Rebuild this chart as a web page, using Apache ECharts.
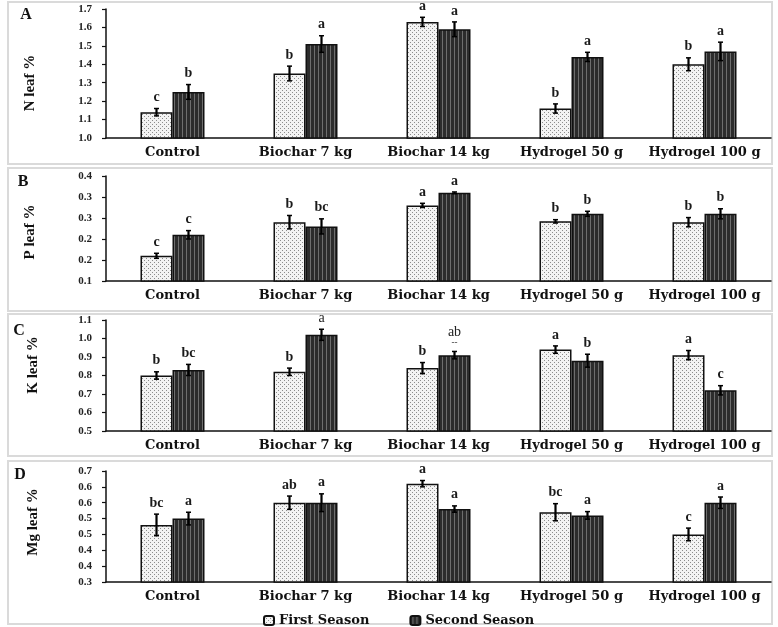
<!DOCTYPE html>
<html>
<head>
<meta charset="utf-8">
<script src="https://cdn.jsdelivr.net/npm/echarts@6/dist/echarts.min.js"></script>
<style>html,body{margin:0;padding:0;background:#fff}#c{width:778px;height:627px}</style>
</head>
<body>
<div id="c"></div>
<script>
// ---------------- data ----------------
const categories = ['Control', 'Biochar 7 kg', 'Biochar 14 kg', 'Hydrogel 50 g', 'Hydrogel 100 g'];
const seasonNames = ['First Season', 'Second Season'];

const nFirst = [1.14, 1.35, 1.63, 1.16, 1.40];
const nSecond = [1.25, 1.51, 1.59, 1.44, 1.47];
const nErrFirst = [0.02, 0.04, 0.025, 0.025, 0.035];
const nErrSecond = [0.04, 0.045, 0.04, 0.025, 0.05];
const nLetFirst = ['c', 'b', 'a', 'b', 'b'];
const nLetSecond = ['b', 'a', 'a', 'a', 'a'];
const nTicks = ['1.0', '1.1', '1.2', '1.3', '1.4', '1.5', '1.6', '1.7'];

const pFirst = [0.16, 0.24, 0.28, 0.242, 0.24];
const pSecond = [0.21, 0.23, 0.31, 0.26, 0.26];
const pErrFirst = [0.006, 0.016, 0.005, 0.004, 0.011];
const pErrSecond = [0.01, 0.018, 0.002, 0.006, 0.012];
const pLetFirst = ['c', 'b', 'a', 'b', 'b'];
const pLetSecond = ['c', 'bc', 'a', 'b', 'b'];
const pTicks = ['0.1', '0.2', '0.2', '0.3', '0.3', '0.4'];

const kFirst = [0.80, 0.82, 0.84, 0.94, 0.91];
const kSecond = [0.83, 1.02, 0.91, 0.88, 0.72];
const kErrFirst = [0.02, 0.02, 0.03, 0.02, 0.025];
const kErrSecond = [0.03, 0.03, 0.02, 0.035, 0.025];
const kLetFirst = ['b', 'b', 'b', 'a', 'a'];
const kLetSecond = ['bc', 'a', 'ab', 'b', 'c'];
const kTicks = ['0.5', '0.6', '0.7', '0.8', '0.9', '1.0', '1.1'];

const mgFirst = [0.48, 0.55, 0.61, 0.52, 0.45];
const mgSecond = [0.50, 0.55, 0.53, 0.51, 0.55];
const mgErrFirst = [0.034, 0.021, 0.01, 0.027, 0.02];
const mgErrSecond = [0.02, 0.028, 0.01, 0.012, 0.018];
const mgLetFirst = ['bc', 'ab', 'a', 'bc', 'c'];
const mgLetSecond = ['a', 'a', 'a', 'a', 'a'];
const mgTicks = ['0.3', '0.4', '0.4', '0.5', '0.5', '0.6', '0.6', '0.7'];

// ---------------- styling ----------------
const SERIF = '"Liberation Serif","DejaVu Serif",serif';
const WIDE = '"DejaVu Serif","Liberation Serif",serif';

function dotPattern() {
  const c = document.createElement('canvas'); c.width = 4; c.height = 4;
  const g = c.getContext('2d');
  g.fillStyle = '#f3f3f3'; g.fillRect(0, 0, 4, 4);
  g.fillStyle = '#8c8c8c'; g.fillRect(0, 0, 1, 1); g.fillRect(2, 2, 1, 1);
  return c;
}
function stripePattern() {
  const c = document.createElement('canvas'); c.width = 4; c.height = 2;
  const g = c.getContext('2d');
  g.fillStyle = '#2c2c2c'; g.fillRect(0, 0, 4, 2);
  g.fillStyle = '#6e6e6e'; g.fillRect(2, 0, 1, 2);
  return c;
}
const fillFirst = { image: dotPattern(), repeat: 'repeat' };
const fillSecond = { image: stripePattern(), repeat: 'repeat' };

const panels = [
  { name: 'N leaf %', letter: 'A', first: nFirst, second: nSecond, ef: nErrFirst, es: nErrSecond, lf: nLetFirst, ls: nLetSecond, ticks: nTicks, min: 1.0, max: 1.7, interval: 0.1, top: 9, height: 129, frame: [2, 164], titleXY: [30, 83], letterXY: [26, 15] },
  { name: 'P leaf %', letter: 'B', first: pFirst, second: pSecond, ef: pErrFirst, es: pErrSecond, lf: pLetFirst, ls: pLetSecond, ticks: pTicks, min: 0.10, max: 0.35, interval: 0.05, top: 176, height: 105, frame: [168, 311], titleXY: [30, 232], letterXY: [23, 182] },
  { name: 'K leaf %', letter: 'C', first: kFirst, second: kSecond, ef: kErrFirst, es: kErrSecond, lf: kLetFirst, ls: kLetSecond, ticks: kTicks, min: 0.5, max: 1.1, interval: 0.1, top: 320, height: 111, frame: [314, 456], titleXY: [33, 365], letterXY: [19, 331], normal: [1, 2] },
  { name: 'Mg leaf %', letter: 'D', first: mgFirst, second: mgSecond, ef: mgErrFirst, es: mgErrSecond, lf: mgLetFirst, ls: mgLetSecond, ticks: mgTicks, min: 0.30, max: 0.65, interval: 0.05, top: 471, height: 111, frame: [461, 624], titleXY: [33, 522], letterXY: [20, 475] }
];

const grid = [], xAxis = [], yAxis = [], series = [], graphic = [];

function errSeries(p, idx, sign, vals, errs, lets, isSecond) {
  return {
    type: 'custom', xAxisIndex: idx, yAxisIndex: idx, z: 5, silent: true,
    data: vals.map((v, i) => [i, v, errs[i]]),
    encode: { x: 0, y: 1 },
    renderItem: function (params, api) {
      const i = api.value(0), v = api.value(1), e = api.value(2);
      const x = api.coord([i, v])[0] + sign * 16;
      const yt = api.coord([i, v + e])[1];
      const yb = api.coord([i, v - e])[1];
      const cap = 2.5;
      const lt = lets[params.dataIndex];
      const normal = isSecond && p.normal && p.normal.indexOf(params.dataIndex) >= 0;
      const children = [
        { type: 'line', shape: { x1: x, y1: yt, x2: x, y2: yb }, style: { stroke: '#000', lineWidth: 2.2 } },
        { type: 'line', shape: { x1: x - cap, y1: yt, x2: x + cap, y2: yt }, style: { stroke: '#000', lineWidth: 1.5 } },
        { type: 'line', shape: { x1: x - cap, y1: yb, x2: x + cap, y2: yb }, style: { stroke: '#000', lineWidth: 1.5 } }
      ];
      if (lt === 'ab' && normal) {
        children.push({ type: 'text', style: { text: '--', x: x, y: yt - 4, textAlign: 'center', textVerticalAlign: 'bottom', font: '9px ' + SERIF, fill: '#222' } });
        children.push({ type: 'text', style: { text: lt, x: x, y: yt - 12, textAlign: 'center', textVerticalAlign: 'bottom', font: '14px ' + SERIF, fill: '#222' } });
      } else {
        children.push({ type: 'text', style: { text: lt, x: x, y: yt - 4, textAlign: 'center', textVerticalAlign: 'bottom', font: (normal ? '' : 'bold ') + '14px ' + SERIF, fill: '#1a1a1a' } });
      }
      return { type: 'group', children: children };
    }
  };
}

panels.forEach((p, idx) => {
  grid.push({ left: 106, right: 7, top: p.top, height: p.height, containLabel: false });
  xAxis.push({
    type: 'category', gridIndex: idx, data: categories,
    axisLine: { lineStyle: { color: '#111', width: 1.5 } },
    axisTick: { length: 4, lineStyle: { color: '#111', width: 1.5 } },
    axisLabel: { interval: 0, hideOverlap: false, color: '#111', fontFamily: WIDE, fontWeight: 'bold', fontSize: 13, margin: 8 }
  });
  yAxis.push({
    type: 'value', gridIndex: idx, min: p.min, max: p.max, interval: p.interval,
    splitLine: { show: false },
    axisLine: { show: true, lineStyle: { color: '#111', width: 1.5 } },
    axisTick: { show: true, length: 4, lineStyle: { color: '#111', width: 1.2 } },
    axisLabel: {
      color: '#222', fontFamily: SERIF, fontWeight: 'bold', fontSize: 11, margin: 14,
      formatter: function (v) { return p.ticks[Math.round((v - p.min) / p.interval)]; }
    }
  });
  series.push({
    name: seasonNames[0], type: 'bar', xAxisIndex: idx, yAxisIndex: idx, data: p.first,
    barWidth: 32, barGap: '0%',
    itemStyle: { color: fillFirst, borderColor: '#111', borderWidth: 1.5 }
  });
  series.push({
    name: seasonNames[1], type: 'bar', xAxisIndex: idx, yAxisIndex: idx, data: p.second,
    barWidth: 32, barGap: '0%',
    itemStyle: { color: fillSecond, borderColor: '#111', borderWidth: 1.5 }
  });
  series.push(errSeries(p, idx, -1, p.first, p.ef, p.lf, false));
  series.push(errSeries(p, idx, 1, p.second, p.es, p.ls, true));

  graphic.push({ type: 'rect', silent: true, z: -1, shape: { x: 8, y: p.frame[0], width: 764, height: p.frame[1] - p.frame[0] }, style: { fill: 'none', stroke: '#dadada', lineWidth: 2 } });
  graphic.push({ type: 'text', silent: true, x: p.letterXY[0], y: p.letterXY[1], style: { text: p.letter, font: 'bold 16px ' + SERIF, fill: '#111', textAlign: 'center', textVerticalAlign: 'middle' } });
  graphic.push({ type: 'text', silent: true, x: p.titleXY[0], y: p.titleXY[1], rotation: Math.PI / 2, style: { text: p.name, font: 'bold 15px ' + SERIF, fill: '#111', textAlign: 'center', textVerticalAlign: 'middle' } });
});

const chart = echarts.init(document.getElementById('c'), null, { renderer: 'canvas' });
chart.setOption({
  backgroundColor: '#fff',
  animation: false,
  grid: grid, xAxis: xAxis, yAxis: yAxis, series: series, graphic: graphic,
  legend: {
    data: seasonNames, left: 258, top: 609, itemWidth: 10, itemHeight: 9, itemGap: 40,
    textStyle: { fontFamily: WIDE, fontWeight: 'bold', fontSize: 13, color: '#111' }
  }
});
</script>
</body>
</html>
